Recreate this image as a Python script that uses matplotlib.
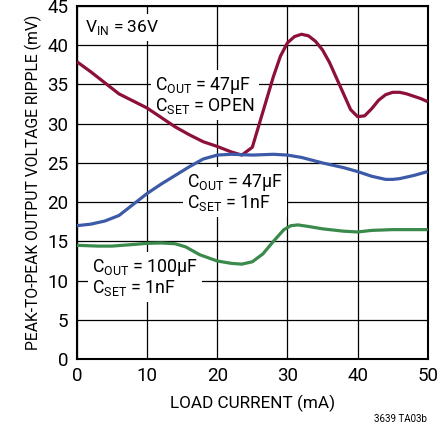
import matplotlib.pyplot as plt

plt.rcParams['font.family'] = ['Roboto', 'DejaVu Sans']
plt.rcParams['mathtext.fontset'] = 'custom'
plt.rcParams['mathtext.rm'] = 'Roboto'

# values
x_red = [0, 2, 4, 6, 8, 10, 12, 14, 16, 18, 20, 22, 23.5, 25, 26, 27, 28, 29, 30, 31, 32, 33, 34, 35, 36, 37, 38, 39, 40, 41, 42, 43, 44, 45, 46, 47, 48, 49, 50]
y_red = [37.9, 36.6, 35.2, 33.8, 32.9, 32.0, 30.8, 29.6, 28.6, 27.7, 27.1, 26.4, 26.0, 27.0, 30.0, 33.0, 36.0, 38.6, 40.3, 41.1, 41.4, 41.2, 40.5, 39.4, 37.8, 35.8, 33.8, 31.8, 30.9, 31.0, 31.9, 33.0, 33.7, 34.0, 34.0, 33.8, 33.5, 33.2, 32.8]

x_blue = [0, 2, 4, 6, 8, 10, 12, 14, 16, 18, 20, 22, 25, 28, 30, 32, 35, 38, 40, 42, 44, 45, 46, 48, 50]
y_blue = [17.0, 17.2, 17.6, 18.3, 19.7, 21.1, 22.3, 23.4, 24.5, 25.5, 26.0, 26.1, 26.0, 26.1, 26.0, 25.7, 25.0, 24.4, 23.9, 23.3, 22.9, 22.9, 23.0, 23.4, 23.9]

x_green = [0, 3, 5, 8, 10, 12, 14, 15.5, 17.5, 20, 22, 23.5, 25, 26.5, 28, 29.5, 30.5, 31.5, 33, 35, 38, 40, 42, 45, 50]
y_green = [14.5, 14.4, 14.4, 14.6, 14.75, 14.8, 14.7, 14.3, 13.3, 12.5, 12.2, 12.1, 12.4, 13.4, 15.0, 16.5, 17.0, 17.1, 16.9, 16.6, 16.3, 16.2, 16.4, 16.5, 16.5]

fig = plt.figure(figsize=(4.47, 4.29), dpi=100)
ax = fig.add_axes([0.172, 0.163, 0.785, 0.823])

ax.plot(x_red, y_red, color='#8c0f3c', lw=2.3, zorder=4, solid_capstyle='butt')
ax.plot(x_blue, y_blue, color='#3d5aa8', lw=2.3, zorder=4, solid_capstyle='butt')
ax.plot(x_green, y_green, color='#3a8a4c', lw=2.3, zorder=4, solid_capstyle='butt')

ax.set_xlim(0, 50)
ax.set_ylim(0, 45)
ax.set_xticks(range(0, 51, 10))
ax.set_yticks(range(0, 46, 5))
ax.grid(True, color='black', lw=0.9, zorder=1)
ax.set_axisbelow(True)
ax.tick_params(length=0, labelsize=13.5, pad=6)
for s in ax.spines.values():
    s.set_linewidth(1.5)

ax.set_xlabel('LOAD CURRENT (mA)', fontsize=12.3, labelpad=7)
ax.set_ylabel('PEAK-TO-PEAK OUTPUT VOLTAGE RIPPLE (mV)', fontsize=11.3, labelpad=4)

box = dict(facecolor='white', edgecolor='none', pad=3)
ax.text(1.2, 42.3, r'V$_\mathregular{IN}$ = 36V', fontsize=12.5, va='center', ha='left', bbox=box, zorder=3)
ax.text(11.2, 33.6, 'C$_\\mathregular{OUT}$ = 47µF\nC$_\\mathregular{SET}$ = OPEN', fontsize=12.8,
        va='center', ha='left', bbox=box, zorder=3, linespacing=1.0)
ax.text(15.7, 21.2, 'C$_\\mathregular{OUT}$ = 47µF\nC$_\\mathregular{SET}$ = 1nF', fontsize=12.8,
        va='center', ha='left', bbox=box, zorder=3, linespacing=1.0)
ax.text(2.1, 10.4, 'C$_\\mathregular{OUT}$ = 100µF\nC$_\\mathregular{SET}$ = 1nF', fontsize=12.8,
        va='center', ha='left', bbox=box, zorder=3, linespacing=1.0)

fig.text(0.955, 0.012, '3639 TA03b', fontsize=7, ha='right', va='bottom')

fig.savefig('out.png', dpi=100)
